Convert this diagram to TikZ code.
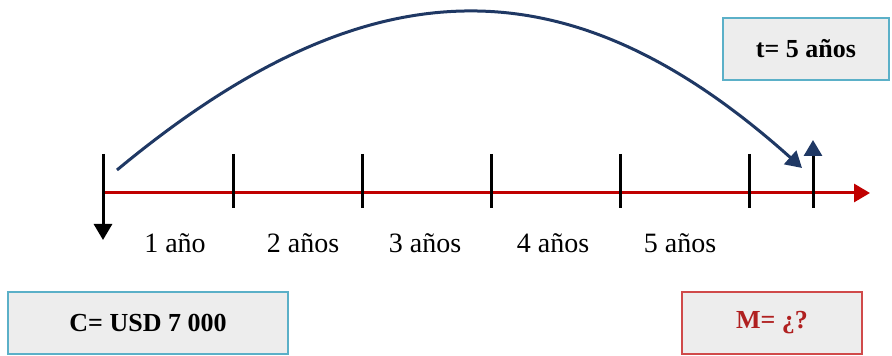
\documentclass[tikz,border=0pt]{standalone}
\usepackage{fontspec}
\setmainfont{Liberation Serif}
\usetikzlibrary{arrows.meta}
\definecolor{navy}{HTML}{1F3864}
\definecolor{axisred}{HTML}{C00000}
\definecolor{boxteal}{HTML}{5BB0C8}
\definecolor{boxred}{HTML}{D04A4A}
\definecolor{boxgray}{HTML}{EDEDED}
\definecolor{textred}{HTML}{B02020}
\tikzset{
  databox/.style={draw=boxteal,fill=boxgray,line width=1pt,minimum height=31pt,
    font=\bfseries\fontsize{13}{15}\selectfont},
  tickline/.style={line width=1.5pt,black},
  yearlabel/.style={font=\fontsize{14}{16}\selectfont},
  tip/.style={-{Triangle[length=8pt,width=9pt]}}
}
\begin{document}
\begin{tikzpicture}[x=0.5pt,y=-0.5pt]
  \useasboundingbox (0,0) rectangle (892,356);

  % time axis
  \coordinate (O) at (103,193);
  \coordinate (E) at (870,193);
  \draw[axisred,line width=1.5pt,tip] (O) -- (E);

  % ticks
  \foreach \x [count=\i] in {103,233,362,491,620,749}{
    \coordinate (a\i) at (\x,154);
    \coordinate (b\i) at (\x,208);
  }
  \foreach \i in {2,...,6}{
    \draw[tickline] (a\i) -- (b\i);
  }
  \coordinate (D) at (103,240);
  \draw[tickline,tip] (a1) -- (D);
  \coordinate (U0) at (813,208);
  \coordinate (U1) at (813,140);
  \draw[tickline,-{Triangle[length=8pt,width=9pt,color=navy]}] (U0) -- (U1);

  % years
  \node[yearlabel] (L1) at (175,243) {1 año};
  \foreach \x [count=\i from 2] in {303,425,553,680}{
    \node[yearlabel] (L\i) at (\x,243) {\i{} años};
  }

  % arc
  \coordinate (S) at (117,170);
  \coordinate (F) at (802,168);
  \draw[navy,line width=1.5pt,tip] (S) .. controls (370,-40) and (570,-40) .. (F);

  % boxes
  \node[databox,minimum width=140pt] (C) at (148,323) {C= USD 7 000};
  \node[databox,draw=boxred,text=textred,minimum width=90pt] (M) at (772,323) {M= ¿?};
  \node[databox,minimum width=83pt] (T) at (806,49) {t= 5 años};
\end{tikzpicture}
\end{document}
